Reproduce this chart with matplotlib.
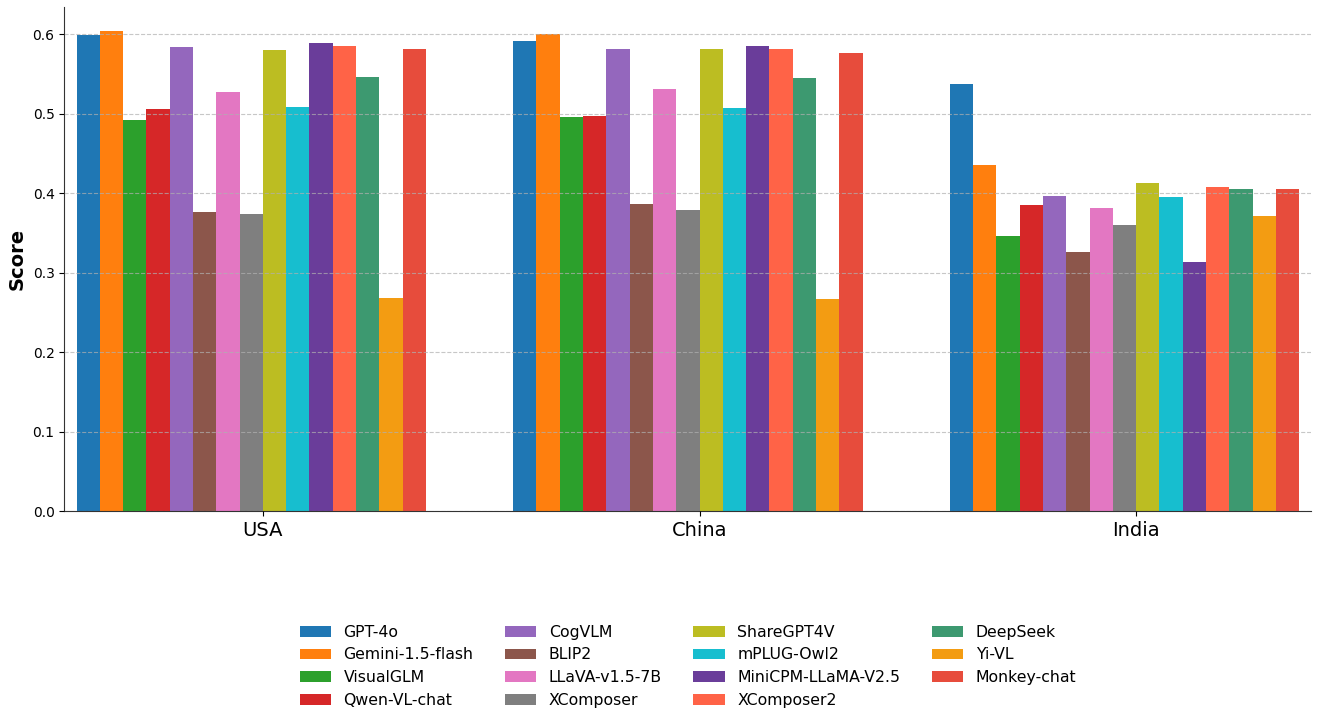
import numpy as np
import matplotlib
matplotlib.use('Agg')
import matplotlib.pyplot as plt

# Data
countries = ['USA', 'China', 'India']
models = ['GPT-4o', 'Gemini-1.5-flash', 'VisualGLM', 'Qwen-VL-chat', 'CogVLM',
          'BLIP2', 'LLaVA-v1.5-7B', 'XComposer', 'ShareGPT4V', 'mPLUG-Owl2',
          'MiniCPM-LLaMA-V2.5', 'XComposer2', 'DeepSeek', 'Yi-VL', 'Monkey-chat']

usa_scores = [0.599, 0.604, 0.492, 0.506, 0.584, 0.376, 0.528, 0.374, 0.580, 0.509,
              0.589, 0.585, 0.546, 0.268, 0.582]
china_scores = [0.592, 0.601, 0.496, 0.497, 0.581, 0.386, 0.531, 0.379, 0.581, 0.507,
                0.585, 0.582, 0.545, 0.267, 0.577]
india_scores = [0.537, 0.436, 0.346, 0.385, 0.397, 0.326, 0.382, 0.360, 0.413, 0.395,
                0.313, 0.408, 0.406, 0.371, 0.406]

colors = ['#1f77b4', '#ff7f0e', '#2ca02c', '#d62728', '#9467bd', '#8c564b', '#e377c2',
          '#7f7f7f', '#bcbd22', '#17becf', '#6a3d9a', '#ff6347', '#3d9970', '#f39c12',
          '#e74c3c']

scores = np.array([usa_scores, china_scores, india_scores])  # country x model

fig = plt.figure(figsize=(13.18, 7.17), dpi=100)
ax = fig.add_axes([0.0488, 0.287, 0.9462, 0.703])

x = np.arange(len(countries))
n = len(models)
width = 0.8 / n

for i, model in enumerate(models):
    ax.bar(x + (i - n / 2) * width, scores[:, i], width, color=colors[i], label=model)

ax.set_xticks(x)
ax.set_xticklabels(countries, fontsize=14)
ax.tick_params(axis='y', labelsize=10)
ax.set_ylabel('Score', fontsize=14, fontweight='bold')
ax.margins(x=0.01)

ax.grid(axis='y', linestyle='--', alpha=0.7)
ax.set_axisbelow(False)
ax.spines['top'].set_visible(False)
ax.spines['right'].set_visible(False)
for side in ['left', 'bottom']:
    ax.spines[side].set_color('#333333')

ax.legend(loc='upper center', bbox_to_anchor=(0.5, -0.197), ncol=4, fontsize=11.3,
          frameon=False)

fig.savefig('out.png', dpi=100)
